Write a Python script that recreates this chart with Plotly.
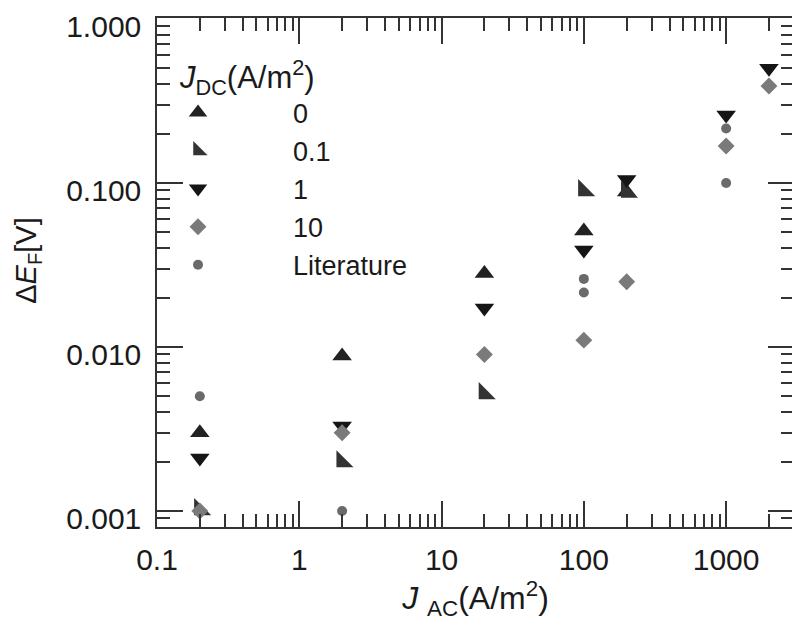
import plotly.graph_objects as go

# J_AC (A/m^2) and delta E_F (V) per J_DC series
jac_0 = [0.2, 2, 20, 100, 200]
def_0 = [0.003, 0.0088, 0.028, 0.051, 0.088]

jac_01 = [0.2, 2, 20, 100, 200]
def_01 = [0.00102, 0.002, 0.0052, 0.09, 0.088]

jac_1 = [0.2, 2, 20, 100, 200, 1000, 2000]
def_1 = [0.0021, 0.0033, 0.0173, 0.039, 0.105, 0.26, 0.50]

jac_10 = [0.2, 2, 20, 100, 200, 1000, 2000]
def_10 = [0.001, 0.003, 0.009, 0.011, 0.025, 0.168, 0.39]

jac_lit = [0.2, 2, 100, 100, 1000, 1000]
def_lit = [0.005, 0.001, 0.026, 0.0215, 0.215, 0.1]

series = [
    ("0", jac_0, def_0, "triangle-up", "#222222", 17),
    ("0.1", jac_01, def_01, "triangle-sw", "#333333", 19),
    ("1", jac_1, def_1, "triangle-down", "#151515", 17),
    ("10", jac_10, def_10, "diamond", "#7a7a7a", 13),
    ("Literature", jac_lit, def_lit, "circle", "#6a6a6a", 10),
]

x_range = [-1, 3.477]
y_range = [-3.098, 0.006]
pad = "\u00a0" * 10  # push legend labels right, as in the original

fig = go.Figure()
for name, xs, ys, sym, col, size in series:
    fig.add_trace(go.Scatter(
        x=xs, y=ys, mode="markers", name=pad + name,
        marker=dict(symbol=sym, color=col, size=size, line=dict(width=0))
    ))
# empty trace so the top/right tick axes get drawn
fig.add_trace(go.Scatter(x=[], y=[], xaxis="x2", yaxis="y2", showlegend=False))

font = "Liberation Sans, Arial, sans-serif"
axis_common = dict(
    type="log", automargin=False,
    showgrid=False, zeroline=False,
    showline=True, linecolor="#333333", linewidth=1.5,
    ticks="inside", ticklen=26, tickwidth=1.5, tickcolor="#333333",
    tickfont=dict(size=30, color="#1a1a1a", family=font),
    ticklabeloverflow="allow",
    minor=dict(ticks="inside", ticklen=13, tickwidth=1.5, tickcolor="#333333",
               dtick="D1", showgrid=False),
)

# page body adds an 8px offset, so the figure is 8px smaller than the window
fig.update_layout(
    width=792, height=617,
    paper_bgcolor="white", plot_bgcolor="white",
    margin=dict(l=149, r=6, t=10, b=98),
    font=dict(family=font, color="#1a1a1a"),
    xaxis=dict(
        range=x_range,
        tickvals=[0.1, 1, 10, 100, 1000],
        ticktext=["0.1", "1", "10", "100", "1000"],
        ticklabelstandoff=5,
        title=dict(text="<i>J</i> <sub>AC</sub>(A/m<sup>2</sup>)",
                   font=dict(size=32, family=font), standoff=12),
        **axis_common,
    ),
    yaxis=dict(
        range=y_range,
        tickvals=[0.001, 0.01, 0.1, 1],
        ticktext=["0.001", "0.010", "0.100", "1.000"],
        ticklabelstandoff=8,
        ticklabelshift=8,
        **axis_common,
    ),
    xaxis2=dict(
        range=x_range, overlaying="x", side="top", anchor="y2",
        tickvals=[0.1, 1, 10, 100, 1000], showticklabels=False,
        **axis_common,
    ),
    yaxis2=dict(
        range=y_range, overlaying="y", side="right", anchor="x2",
        tickvals=[0.001, 0.01, 0.1, 1], showticklabels=False,
        **axis_common,
    ),
    annotations=[dict(
        text="Δ<i>E</i><sub>F</sub>[V]", textangle=-90,
        xref="paper", yref="paper", x=-0.2025, y=0.523,
        xanchor="center", yanchor="middle", showarrow=False,
        font=dict(size=29, family=font, color="#1a1a1a"),
    )],
    legend=dict(
        x=0.033, y=0.941, xanchor="left", yanchor="top",
        bgcolor="rgba(0,0,0,0)",
        font=dict(size=27, family=font, color="#1a1a1a"),
        title=dict(text="<i>J</i><sub>DC</sub>(A/m<sup>2</sup>)",
                   font=dict(size=31, family=font)),
        itemwidth=30,
    ),
)

fig.write_html("out.html")
